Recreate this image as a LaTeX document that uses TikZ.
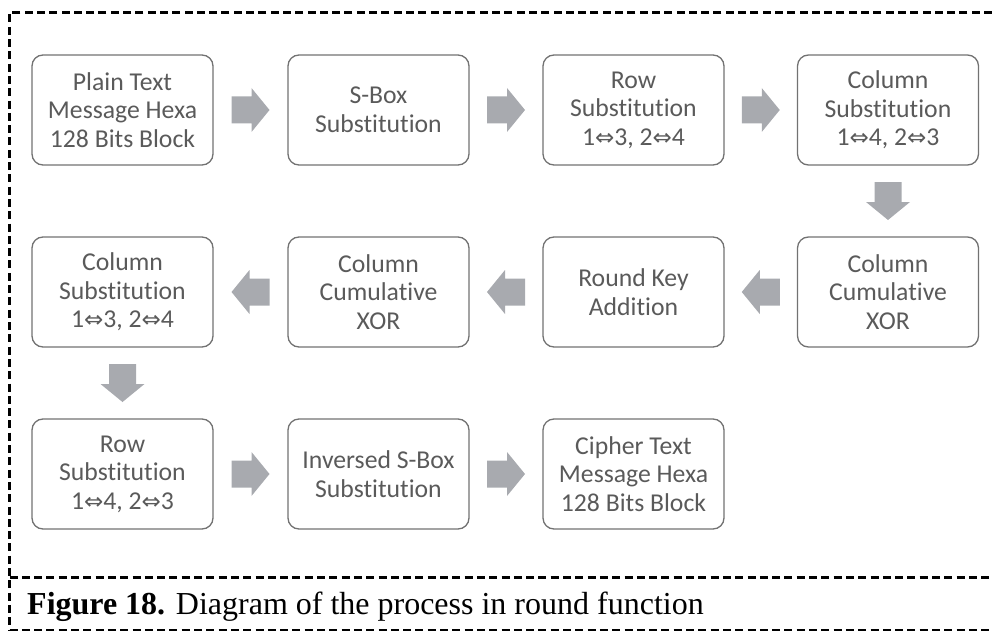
\documentclass[tikz,border=0pt]{standalone}
\usepackage{fontspec}
\setmainfont{Liberation Serif}
\newfontfamily\boxfont[Ligatures=NoCommon]{Carlito}
\newfontfamily\symfont{DejaVu Sans}
\newcommand\xchg{{\symfont\fontsize{23pt}{23pt}\selectfont ⇔}}
\usetikzlibrary{calc}
\definecolor{boxline}{HTML}{727272}
\definecolor{boxtext}{HTML}{5A5A5A}
\definecolor{arrowgray}{HTML}{A8AAAF}
\tikzset{
  stage/.style={draw=boxline, line width=1.3pt, rounded corners=11pt, fill=white,
    minimum width=181pt, minimum height=110pt, inner sep=0pt, align=center,
    text=boxtext, font=\boxfont\fontsize{25.7pt}{28.5pt}\selectfont},
  frameline/.style={black, line width=3pt, dash pattern=on 8pt off 4.3pt},
  blockarrow/.pic={\fill[arrowgray] (-19pt,-13.5pt) -- (1pt,-13.5pt) -- (1pt,-22pt)
    -- (19pt,0pt) -- (1pt,22pt) -- (1pt,13.5pt) -- (-19pt,13.5pt) -- cycle;}
}
\begin{document}
\begin{tikzpicture}[x=1pt,y=-1pt]
\useasboundingbox (0,0) rectangle (992,631);
% frame and caption separator
\coordinate (tl) at (9.5,13);
\coordinate (tr) at (992,13);
\coordinate (bl) at (9.5,631);
\coordinate (ml) at (9.5,577);
\coordinate (mr) at (992,577);
\coordinate (bbl) at (9.5,630);
\coordinate (bbr) at (992,630);
\draw[frameline] (tr) -- (tl) -- (bl);
\draw[frameline] (ml) -- (mr);
\draw[frameline] (bbl) -- (bbr);
% process stages
\node[stage] (p) at (122.5,110) {Plain Text\\Message Hexa\\128 Bits Block};
\node[stage] (sb) at (378.5,110) {S-Box\\Substitution};
\node[stage] (rs1) at (633.5,110) {Row\\Substitution\\1\xchg3, 2\xchg4};
\node[stage] (cs1) at (888,110) {Column\\Substitution\\1\xchg4, 2\xchg3};
\node[stage] (cx1) at (888,292) {Column\\Cumulative\\XOR};
\node[stage] (rk) at (633.5,292) {Round Key\\Addition};
\node[stage] (cx2) at (378.5,292) {Column\\Cumulative\\XOR};
\node[stage] (cs2) at (122.5,292) {Column\\Substitution\\1\xchg3, 2\xchg4};
\node[stage] (rs2) at (122.5,474) {Row\\Substitution\\1\xchg4, 2\xchg3};
\node[stage] (isb) at (378.5,474) {Inversed S-Box\\Substitution};
\node[stage] (c) at (633.5,474) {Cipher Text\\Message Hexa\\128 Bits Block};
% flow arrows
\pic at ($(p.east)!0.5!(sb.west)$) {blockarrow};
\pic at ($(sb.east)!0.5!(rs1.west)$) {blockarrow};
\pic at ($(rs1.east)!0.5!(cs1.west)$) {blockarrow};
\pic[rotate=-90] at ($(cs1.south)!0.5!(cx1.north)$) {blockarrow};
\pic[rotate=180] at ($(cx1.west)!0.5!(rk.east)$) {blockarrow};
\pic[rotate=180] at ($(rk.west)!0.5!(cx2.east)$) {blockarrow};
\pic[rotate=180] at ($(cx2.west)!0.5!(cs2.east)$) {blockarrow};
\pic[rotate=-90] at ($(cs2.south)!0.5!(rs2.north)$) {blockarrow};
\pic at ($(rs2.east)!0.5!(isb.west)$) {blockarrow};
\pic at ($(isb.east)!0.5!(c.west)$) {blockarrow};
% caption
\node[anchor=base west, inner sep=0pt, font=\fontsize{32pt}{34pt}\selectfont] (cap) at (27,614)
  {\textbf{Figure 18.} Diagram of the process in round function};
\end{tikzpicture}
\end{document}
